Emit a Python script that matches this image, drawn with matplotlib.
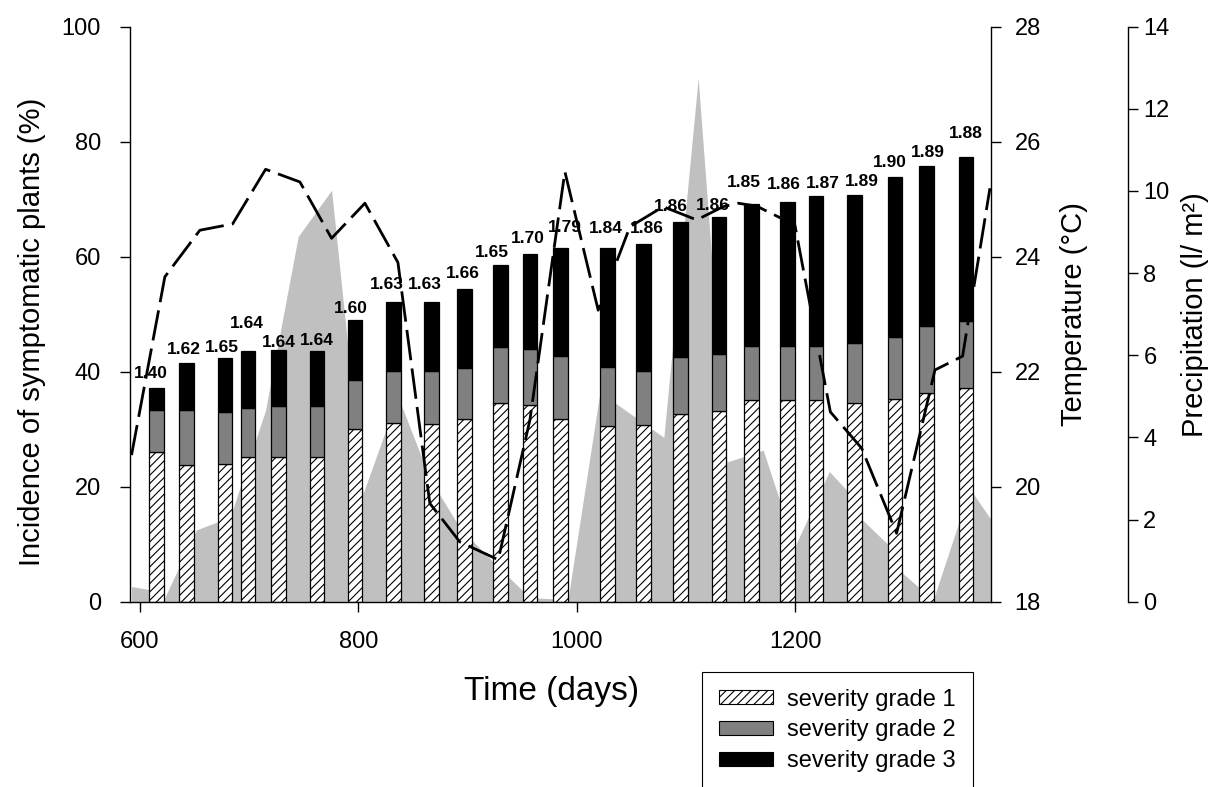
import matplotlib
matplotlib.use("Agg")
import matplotlib.pyplot as plt
from matplotlib.patches import Patch

plt.rcParams['font.family'] = ['Liberation Sans', 'DejaVu Sans']
plt.rcParams['hatch.linewidth'] = 0.8

# ---------------- data ----------------
days = [615, 643, 678, 699, 727, 762, 797, 832, 867, 897, 930, 957,
        985, 1028, 1061, 1095, 1130, 1160, 1193, 1219, 1254, 1291, 1320, 1356]
grade1 = [26.0, 23.7, 23.9, 25.1, 25.2, 25.2, 30.0, 31.0, 30.9, 31.8, 34.5, 34.2,
          31.7, 30.5, 30.7, 32.6, 33.2, 35.0, 35.0, 35.0, 34.6, 35.2, 36.3, 37.1]
grade2 = [7.3, 9.6, 9.1, 8.6, 8.8, 8.8, 8.5, 9.1, 9.2, 8.8, 9.8, 9.8,
          11.0, 10.3, 9.5, 9.9, 9.8, 9.4, 9.4, 9.4, 10.4, 10.9, 11.6, 11.7]
grade3 = [3.9, 8.2, 9.3, 9.9, 9.8, 9.6, 10.5, 12.0, 12.0, 13.8, 14.3, 16.5,
          18.8, 20.8, 22.0, 23.6, 23.9, 24.7, 25.2, 26.1, 25.7, 27.8, 27.9, 28.5]
severity_index = ["1.40", "1.62", "1.65", "1.64", "1.64", "1.64", "1.60", "1.63",
                  "1.63", "1.66", "1.65", "1.70", "1.79", "1.84", "1.86", "1.86",
                  "1.86", "1.85", "1.86", "1.87", "1.89", "1.90", "1.89", "1.88"]

temp_days = [592.4, 622.9, 654.9, 684.9, 715.1, 746.5, 775.5, 806.0, 836.2, 865.4,
             892.9, 928.0, 957.0, 989.0, 1019.5, 1048.5, 1079.0, 1109.6, 1133.9,
             1147.6, 1164.5, 1199.5, 1232.0, 1260.6, 1292.6, 1327.7, 1353.0, 1378.0]
temperature = [20.55, 23.65, 24.46, 24.57, 25.52, 25.30, 24.32, 24.93, 23.90, 19.71,
               19.04, 18.73, 21.16, 25.48, 23.07, 24.52, 24.87, 24.64, 24.87,
               24.93, 24.88, 24.55, 21.30, 20.67, 19.19, 22.03, 22.27, 25.19]

precip_days = [592.4, 607.6, 621.0, 651.9, 671.7, 685.1, 715.1, 744.9, 775.5, 804.4,
               836.2, 865.4, 892.9, 927.7, 957.0, 991.8, 1021.1, 1079.6, 1111.0,
               1137.3, 1170.5, 1199.5, 1231.0, 1246.8, 1260.9, 1286.5, 1295.7,
               1326.1, 1359.7, 1379.0]
precipitation = [0.37, 0.30, 0.0, 1.75, 1.95, 2.25, 4.67, 8.89, 10.02, 2.64,
                 5.0, 3.0, 1.8, 0.85, 0.1, 0.05, 5.1, 4.0, 12.75,
                 3.4, 3.69, 1.34, 3.17, 2.72, 2.0, 1.35, 0.75,
                 0.04, 2.75, 2.0]

x_ticks = [600, 800, 1000, 1200]
y_ticks = [0, 20, 40, 60, 80, 100]
t_ticks = [18, 20, 22, 24, 26, 28]
p_ticks = [0, 2, 4, 6, 8, 10, 12, 14]

# label placement (style): horizontal shift and height of label centre above bar (pixels)
label_dx = [-5, -3, -3, -1.6, 0, 0, -4, -7, -7, -1.5, -9, -2,
            4, -2, 3, -10, -6, -8, -4, 7, 7, -5, 1.7, 0]
label_rise = [16, 15, 12.3, 29.3, 9.3, 12.7, 13.3, 19.3, 19, 17.3, 14.3, 17.3,
              22.3, 20.6, 17.6, 16.7, 13.3, 23.3, 18.3, 14.3, 15, 15.7, 15.3, 25]

# ---------------- figure ----------------
W, H = 1209, 787
fig = plt.figure(figsize=(W / 100, H / 100), dpi=100)
L, R, T, B = 130, 991, 26.7, 601.7
ax = fig.add_axes([L / W, 1 - B / H, (R - L) / W, (B - T) / H])
ax_p = ax.twinx()
ax_t = ax.twinx()

ax_p.set_zorder(0)
ax.set_zorder(1)
ax_t.set_zorder(2)
ax.patch.set_visible(False)
ax_t.patch.set_visible(False)

# precipitation area
ax_p.fill_between(precip_days, precipitation, 0, color='#c0c0c0', lw=0)
ax_p.set_ylim(0, 14)
ax_p.set_yticks(p_ticks)

# bars
bw = 13.4
bot2 = [a for a in grade1]
bot3 = [a + b for a, b in zip(grade1, grade2)]
ax.bar(days, grade1, width=bw, color='white', edgecolor='black', hatch='////', lw=0.9)
ax.bar(days, grade2, width=bw, bottom=bot2, color='#808080', edgecolor='black', lw=0.9)
ax.bar(days, grade3, width=bw, bottom=bot3, color='black', edgecolor='black', lw=0.9)

totals = [a + b + c for a, b, c in zip(grade1, grade2, grade3)]
fs_lab = 12.5
cap_half = 0.716 * fs_lab / 0.72 / 2  # px
for d, tot, s, dx, rise in zip(days, totals, severity_index, label_dx, label_rise):
    ax.annotate(s, (d, tot), xytext=(dx * 0.72, (rise - cap_half) * 0.72),
                textcoords='offset points', ha='center', va='baseline',
                fontsize=fs_lab, fontweight='bold')

ax.set_xlim(591, 1379)
ax.set_ylim(0, 100)
ax.set_xticks(x_ticks)
ax.set_yticks(y_ticks)

# temperature
ax_t.plot(temp_days, temperature, color='black', lw=2, linestyle=(0, (11, 3)))
ax_t.set_ylim(18, 28)
ax_t.set_yticks(t_ticks)
ax_t.set_xlim(591, 1379)

# spines
for s in ['top', 'right']:
    ax.spines[s].set_visible(False)
for s in ['top', 'left', 'bottom']:
    ax_t.spines[s].set_visible(False)
    ax_p.spines[s].set_visible(False)
ax_p.spines['right'].set_position(('axes', (1128 - L) / (R - L)))
for a in (ax, ax_t, ax_p):
    for sp in a.spines.values():
        sp.set_linewidth(1.0)
    a.tick_params(direction='out', length=7, width=1, labelsize=17)

ax.tick_params(axis='x', pad=14)
ax.tick_params(axis='y', pad=14)
ax_t.tick_params(axis='y', pad=10)
ax_p.tick_params(axis='y', pad=4)

ax.set_xlabel('Time (days)', fontsize=24)
ax.xaxis.set_label_coords(0.49, -0.13)
ax.set_ylabel('Incidence of symptomatic plants (%)', fontsize=21)
ax.yaxis.set_label_coords(-0.097, 0.47)
ax_t.set_ylabel('Temperature (°C)', fontsize=21, labelpad=14)
ax_p.set_ylabel('Precipitation (l/ m²)', fontsize=21, labelpad=8)

handles = [Patch(facecolor='white', edgecolor='black', hatch='////', lw=0.8),
           Patch(facecolor='#808080', edgecolor='black', lw=0.8),
           Patch(facecolor='black', edgecolor='black', lw=0.8)]
labels = ['severity grade 1', 'severity grade 2', 'severity grade 3']
leg = fig.legend(handles, labels, loc='upper left',
                 bbox_to_anchor=(701.7 / W, 1 - 671.7 / H), borderaxespad=0,
                 frameon=True, fancybox=False, edgecolor='black', framealpha=1,
                 fontsize=17, handlelength=2.29, handleheight=0.55,
                 handletextpad=0.6, labelspacing=0.37, borderpad=0.72)
leg.get_frame().set_linewidth(0.8)

fig.savefig('out.png', dpi=100)
